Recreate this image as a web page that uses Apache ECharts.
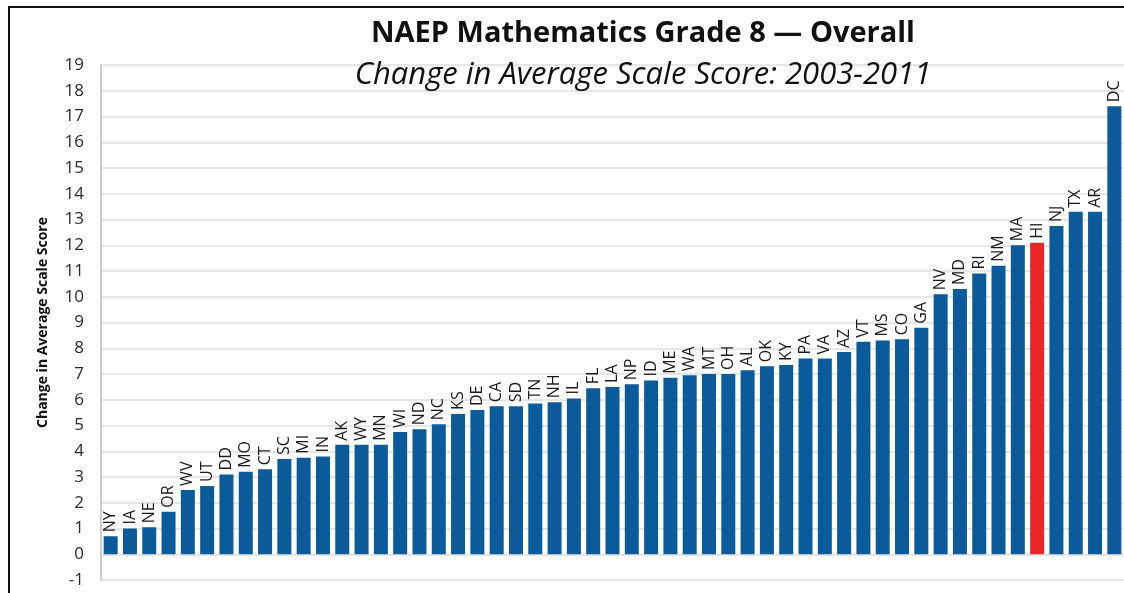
<!DOCTYPE html>
<html>
<head>
<meta charset="utf-8">
<script src="https://cdn.jsdelivr.net/npm/echarts@6/dist/echarts.min.js"></script>
<style>
  html, body { margin: 0; padding: 0; background: #fff; }
  #main { width: 1124px; height: 593px; }
</style>
</head>
<body>
<div id="main"></div>
<script>
// states in the order they appear, lowest change first
var states = ['NY', 'IA', 'NE', 'OR', 'WV', 'UT', 'DD', 'MO', 'CT', 'SC', 'MI', 'IN', 'AK', 'WY', 'MN',
  'WI', 'ND', 'NC', 'KS', 'DE', 'CA', 'SD', 'TN', 'NH', 'IL', 'FL', 'LA', 'NP', 'ID', 'ME', 'WA', 'MT',
  'OH', 'AL', 'OK', 'KY', 'PA', 'VA', 'AZ', 'VT', 'MS', 'CO', 'GA', 'NV', 'MD', 'RI', 'NM', 'MA', 'HI',
  'NJ', 'TX', 'AR', 'DC'];
var changes = [0.7, 1.0, 1.05, 1.65, 2.5, 2.65, 3.1, 3.2, 3.3, 3.7, 3.75, 3.8, 4.25, 4.25, 4.25,
  4.75, 4.85, 5.05, 5.45, 5.6, 5.75, 5.75, 5.85, 5.9, 6.05, 6.45, 6.5, 6.6, 6.75, 6.85, 6.95, 7.0,
  7.0, 7.15, 7.3, 7.35, 7.6, 7.6, 7.85, 8.25, 8.3, 8.35, 8.8, 10.1, 10.3, 10.9, 11.2, 12.0, 12.1,
  12.75, 13.3, 13.3, 17.4];
var highlight = 'HI';

var chart = echarts.init(document.getElementById('main'));

var barData = changes.map(function (v, i) {
  return {
    value: v,
    itemStyle: { color: states[i] === highlight ? '#e8262b' : '#0b5b9a' }
  };
});

chart.setOption({
  backgroundColor: '#fff',
  animation: false,
  title: [
    {
      text: 'NAEP Mathematics Grade 8 — Overall',
      left: 638, top: 14, textAlign: 'center',
      textStyle: { fontFamily: 'Open Sans', fontWeight: 'bold', fontSize: 29, color: '#111' }
    },
    {
      text: 'Change in Average Scale Score: 2003-2011',
      left: 638, top: 55, textAlign: 'center',
      textStyle: { fontFamily: 'Open Sans', fontStyle: 'italic', fontWeight: 'normal', fontSize: 31, color: '#111' }
    }
  ],
  graphic: [{
    type: 'rect',
    z: -1,
    shape: { x: 9, y: 7, width: 1200, height: 700 },
    style: { fill: 'none', stroke: '#111', lineWidth: 2 }
  }],
  grid: { left: 101, top: 65, width: 1030, height: 515 },
  xAxis: {
    type: 'category',
    data: states,
    axisLine: { show: false },
    axisTick: { show: false },
    axisLabel: { show: false }
  },
  yAxis: {
    type: 'value',
    min: -1, max: 19, interval: 1,
    name: 'Change in Average Scale Score',
    nameLocation: 'middle',
    nameGap: 51,
    nameTextStyle: { fontFamily: 'Open Sans', fontWeight: 'bold', fontSize: 14, color: '#111' },
    axisLine: { show: true, lineStyle: { color: '#bdbdbd', width: 1.5 } },
    axisTick: { show: false },
    axisLabel: { fontFamily: 'Open Sans', fontSize: 17, color: '#2a2a2a', margin: 17 },
    splitLine: { lineStyle: { color: '#dedede', width: 1.5 } }
  },
  series: [{
    type: 'bar',
    data: barData,
    barWidth: 14,
    label: {
      show: true,
      position: 'top',
      rotate: 90,
      align: 'left',
      verticalAlign: 'middle',
      distance: 4,
      fontFamily: 'Open Sans',
      fontSize: 16,
      color: '#1a1a1a',
      formatter: function (p) { return p.name; }
    }
  }]
});
</script>
</body>
</html>
